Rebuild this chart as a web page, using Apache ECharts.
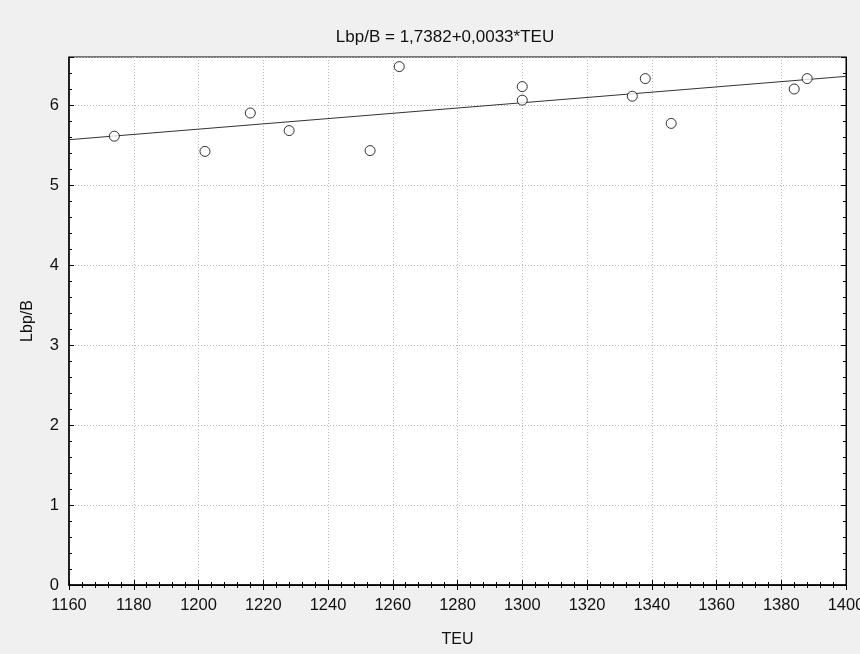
<!DOCTYPE html>
<html>
<head>
<meta charset="utf-8">
<script src="https://cdn.jsdelivr.net/npm/echarts@6/dist/echarts.min.js"></script>
<style>
  html, body { margin: 0; padding: 0; background: #f0f0f0; overflow: hidden; }
  #chart { width: 860px; height: 654px; }
</style>
</head>
<body>
<div id="chart"></div>
<script>
  var teu = [1174, 1202, 1216, 1228, 1253, 1262, 1300, 1300, 1334, 1338, 1346, 1384, 1388];
  var ratio = [5.61, 5.42, 5.90, 5.68, 5.43, 6.48, 6.23, 6.06, 6.11, 6.33, 5.77, 6.20, 6.33];

  // fit from the title
  var intercept = 1.7382;
  var slope = 0.0033;
  var xRange = [1160, 1400];

  var pts = [];
  for (var i = 0; i < teu.length; i++) {
    pts.push([teu[i], ratio[i]]);
  }
  var fit = [];
  for (var j = 0; j < xRange.length; j++) {
    fit.push([xRange[j], intercept + slope * xRange[j]]);
  }

  var font = 'Liberation Sans, Arial, sans-serif';
  var gridLine = { show: true, lineStyle: { color: '#b8b8b8', type: [1, 2], width: 1 } };

  var myChart = echarts.init(document.getElementById('chart'));
  myChart.setOption({
    backgroundColor: '#f0f0f0',
    animation: false,
    title: {
      text: 'Lbp/B = 1,7382+0,0033*TEU',
      left: 440,
      top: 24,
      textAlign: 'center',
      textStyle: { fontFamily: font, fontSize: 17, fontWeight: 'normal', color: '#111' }
    },
    grid: {
      left: 69, right: 14, top: 57, bottom: 69,
      outerBoundsMode: 'none',
      containLabel: false,
      show: true, backgroundColor: '#ffffff', borderColor: '#000', borderWidth: 1
    },
    xAxis: [{
      type: 'value',
      min: 1160, max: 1400, interval: 20,
      name: 'TEU',
      nameLocation: 'middle',
      nameGap: 47,
      nameTextStyle: { fontFamily: font, fontSize: 16, color: '#111' },
      axisLine: { show: true, onZero: false, lineStyle: { color: '#000', width: 1.5 } },
      axisTick: { show: true, inside: true, length: 5, lineStyle: { color: '#000' } },
      minorTick: { show: true, splitNumber: 5, length: 3, lineStyle: { color: '#000' } },
      axisLabel: {
        fontFamily: font, fontSize: 16.5, color: '#111', margin: 12,
        formatter: function (v) { return String(v); }
      },
      splitLine: gridLine
    }, {
      type: 'value',
      position: 'top',
      min: 1160, max: 1400, interval: 20,
      axisLine: { show: true, lineStyle: { color: '#000' } },
      axisTick: { show: true, inside: true, length: 5, lineStyle: { color: '#000' } },
      minorTick: { show: true, splitNumber: 5, length: 3, lineStyle: { color: '#000' } },
      axisLabel: { show: false },
      splitLine: { show: false }
    }],
    yAxis: [{
      type: 'value',
      min: 0, max: 6.6, interval: 1,
      name: 'Lbp/B',
      nameLocation: 'middle',
      nameGap: 33,
      nameTextStyle: { fontFamily: font, fontSize: 16, color: '#111' },
      axisLine: { show: true, onZero: false, lineStyle: { color: '#000', width: 1.5 } },
      axisTick: { show: true, inside: true, length: 5, lineStyle: { color: '#000' } },
      minorTick: { show: true, splitNumber: 5, length: 3, lineStyle: { color: '#000' } },
      axisLabel: {
        fontFamily: font, fontSize: 16.5, color: '#111', margin: 10,
        showMaxLabel: false
      },
      splitLine: gridLine
    }, {
      type: 'value',
      position: 'right',
      min: 0, max: 6.6, interval: 1,
      axisLine: { show: true, lineStyle: { color: '#000' } },
      axisTick: { show: true, inside: true, length: 5, lineStyle: { color: '#000' } },
      minorTick: { show: true, splitNumber: 5, length: 3, lineStyle: { color: '#000' } },
      axisLabel: { show: false },
      splitLine: { show: false }
    }],
    series: [{
      type: 'line',
      data: fit,
      symbol: 'none',
      lineStyle: { color: '#333', width: 1 },
      z: 2
    }, {
      type: 'scatter',
      data: pts,
      symbol: 'circle',
      symbolSize: 10,
      itemStyle: { color: '#ffffff', borderColor: '#000', borderWidth: 1 },
      z: 3
    }]
  });
</script>
</body>
</html>
